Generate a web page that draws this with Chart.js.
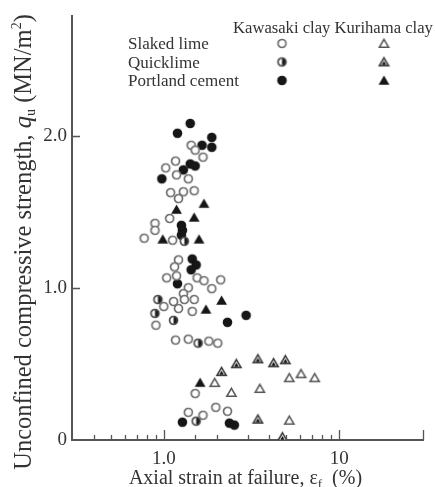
<!DOCTYPE html>
<html>
<head>
<meta charset="utf-8">
<script src="https://cdn.jsdelivr.net/npm/chart.js@4"></script>
<style>
  html, body { margin: 0; padding: 0; background: #fff; }
  canvas { display: block; }
</style>
</head>
<body>
<canvas id="strainChart" width="435" height="487"></canvas>
<script>
// Kawasaki clay - slaked lime (open circles)
var kawaSlakedX = [1.433, 1.509, 1.673, 1.167, 1.026, 1.182, 1.379, 1.094, 1.293, 1.490, 1.213,
    1.080, 0.891, 0.891, 0.773, 1.123, 1.213, 1.152, 1.039, 1.182, 1.549, 1.694, 2.109, 1.379,
    1.878, 1.293, 1.137, 1.310, 1.490, 1.000, 1.213, 1.452, 0.902, 1.167, 1.379, 1.807, 2.029,
    1.509, 1.379, 1.673, 1.978, 2.307];
var kawaSlakedY = [1.941, 1.909, 1.863, 1.837, 1.792, 1.746, 1.720, 1.629, 1.635, 1.642, 1.590,
    1.459, 1.427, 1.381, 1.329, 1.316, 1.186, 1.140, 1.068, 1.081, 1.068, 1.049, 1.055, 1.003,
    0.997, 0.964, 0.912, 0.925, 0.925, 0.879, 0.866, 0.847, 0.756, 0.658, 0.664, 0.651, 0.638,
    0.306, 0.182, 0.163, 0.215, 0.189];

// Kawasaki clay - quicklime (half-filled circles)
var kawaQuickX = [1.310, 0.926, 0.891, 1.137, 1.569, 1.529];
var kawaQuickY = [1.309, 0.925, 0.834, 0.788, 0.638, 0.124];

// Kawasaki clay - Portland cement (filled circles)
var kawaCementX = [1.415, 1.197, 1.878, 1.652, 1.878, 1.415, 1.509, 1.293, 0.975, 1.260, 1.277,
    1.260, 1.452, 1.529, 1.433, 1.197, 2.946, 2.307, 1.277, 2.367, 2.525];
var kawaCementY = [2.085, 2.020, 1.993, 1.941, 1.928, 1.818, 1.805, 1.779, 1.720, 1.414, 1.381,
    1.349, 1.192, 1.153, 1.121, 1.029, 0.821, 0.775, 0.117, 0.111, 0.098];

// Kurihama clay - slaked lime (open triangles)
var kuriSlakedX = [1.952, 2.429, 3.527, 5.189, 6.055, 7.249, 5.189];
var kuriSlakedY = [0.378, 0.313, 0.339, 0.410, 0.436, 0.410, 0.130];

// Kurihama clay - quicklime (dotted triangles)
var kuriQuickX = [2.591, 3.438, 4.224, 4.929, 2.136, 3.438, 4.742];
var kuriQuickY = [0.502, 0.534, 0.508, 0.528, 0.450, 0.137, 0.020];

// Kurihama clay - Portland cement (filled triangles)
var kuriCementX = [1.694, 1.182, 1.490, 0.987, 1.589, 2.136, 1.739, 1.610];
var kuriCementY = [1.557, 1.518, 1.466, 1.322, 1.322, 0.919, 0.860, 0.378];

// axis ticks
var xMajorTicks = [1, 10];
var xMinorTicks = [0.4, 0.5, 0.6, 0.7, 0.8, 0.9, 1.5, 2, 3, 4, 5, 6, 7, 8, 9];
var yTicks = [0, 1, 2];

var legendRows = ['Slaked lime', 'Quicklime', 'Portland cement'];
var legendCols = ['Kawasaki clay', 'Kurihama clay'];

var SERIF = '"Liberation Serif", "DejaVu Serif", serif';
var TEXT = '#333';

function pairs(xs, ys) {
    return xs.map(function(x, i) { return { x: x, y: ys[i] }; });
}

// marker images
function makeMarker(draw) {
    var c = document.createElement('canvas');
    c.width = 13;
    c.height = 13;
    var g = c.getContext('2d');
    draw(g, 6.5, 6.5);
    return c;
}

function triPath(g, cx, cy, r) {
    g.beginPath();
    g.moveTo(cx, cy - r);
    g.lineTo(cx + r * 0.93, cy + r * 0.6);
    g.lineTo(cx - r * 0.93, cy + r * 0.6);
    g.closePath();
}

var openCircle = makeMarker(function(g, cx, cy) {
    g.beginPath();
    g.arc(cx, cy, 4, 0, Math.PI * 2);
    g.fillStyle = '#fff';
    g.fill();
    g.lineWidth = 1.7;
    g.strokeStyle = '#6c6c6c';
    g.stroke();
});

var halfCircle = makeMarker(function(g, cx, cy) {
    g.beginPath();
    g.arc(cx, cy, 4, 0, Math.PI * 2);
    g.fillStyle = '#fff';
    g.fill();
    g.beginPath();
    g.arc(cx, cy, 4, -Math.PI / 2, Math.PI / 2);
    g.closePath();
    g.fillStyle = '#1a1a1a';
    g.fill();
    g.beginPath();
    g.arc(cx, cy, 4, 0, Math.PI * 2);
    g.lineWidth = 1.7;
    g.strokeStyle = '#4a4a4a';
    g.stroke();
});

var filledCircle = makeMarker(function(g, cx, cy) {
    g.beginPath();
    g.arc(cx, cy, 4.8, 0, Math.PI * 2);
    g.fillStyle = '#161616';
    g.fill();
});

var openTri = makeMarker(function(g, cx, cy) {
    triPath(g, cx, cy + 0.8, 5);
    g.fillStyle = '#fff';
    g.fill();
    g.lineWidth = 1.5;
    g.strokeStyle = '#555';
    g.stroke();
});

var dotTri = makeMarker(function(g, cx, cy) {
    triPath(g, cx, cy + 0.8, 5);
    g.fillStyle = '#fff';
    g.fill();
    g.lineWidth = 1.5;
    g.strokeStyle = '#333';
    g.stroke();
    triPath(g, cx, cy + 1.4, 2.5);
    g.fillStyle = '#111';
    g.fill();
});

var filledTri = makeMarker(function(g, cx, cy) {
    triPath(g, cx, cy + 0.8, 5.8);
    g.fillStyle = '#161616';
    g.fill();
});

function ds(label, xs, ys, marker) {
    return {
        label: label,
        data: pairs(xs, ys),
        pointStyle: marker,
        pointRadius: 5,
        pointHoverRadius: 5
    };
}

function drawParts(ctx, parts, cx, baseY) {
    var total = 0;
    parts.forEach(function(p) {
        ctx.font = p.f;
        p.w = ctx.measureText(p.t).width;
        total += p.w;
    });
    var x = cx - total / 2;
    parts.forEach(function(p) {
        ctx.font = p.f;
        ctx.fillText(p.t, x, baseY + p.dy);
        x += p.w;
    });
}

// ticks, titles and the two-column legend
var decorPlugin = {
    id: 'decor',
    afterDraw: function(chart) {
        var ctx = chart.ctx;
        var xs = chart.scales.x;
        var ys = chart.scales.y;
        var area = chart.chartArea;

        ctx.save();
        ctx.strokeStyle = '#555';
        ctx.lineWidth = 1.3;
        ctx.beginPath();
        xMajorTicks.concat([xs.max]).forEach(function(v) {
            var px = Math.round(xs.getPixelForValue(v)) + 0.5;
            ctx.moveTo(px, area.bottom);
            ctx.lineTo(px, area.bottom - 10);
        });
        xMinorTicks.forEach(function(v) {
            var px = Math.round(xs.getPixelForValue(v)) + 0.5;
            ctx.moveTo(px, area.bottom);
            ctx.lineTo(px, area.bottom - 5);
        });
        yTicks.forEach(function(v) {
            if (v === 0) return;
            var py = Math.round(ys.getPixelForValue(v)) + 0.5;
            ctx.moveTo(area.left, py);
            ctx.lineTo(area.left + 8, py);
        });
        ctx.stroke();

        ctx.fillStyle = TEXT;
        ctx.textBaseline = 'alphabetic';
        ctx.textAlign = 'left';

        // x title
        drawParts(ctx, [
            { t: 'Axial strain at failure, ', f: '20px ' + SERIF, dy: 0 },
            { t: '\u03b5', f: '20px ' + SERIF, dy: 0 },
            { t: 'f', f: '13px ' + SERIF, dy: 4 },
            { t: '  (%)', f: '20px ' + SERIF, dy: 0 }
        ], (area.left + area.right) / 2 - 2, 484);

        // y title, rotated
        ctx.save();
        ctx.translate(31, 242);
        ctx.rotate(-Math.PI / 2);
        drawParts(ctx, [
            { t: 'Unconfined compressive strength, ', f: '24.5px ' + SERIF, dy: 0 },
            { t: 'q', f: 'italic 24.5px ' + SERIF, dy: 0 },
            { t: 'u', f: '14px ' + SERIF, dy: 4 },
            { t: ' (MN/m', f: '24.5px ' + SERIF, dy: 0 },
            { t: '2', f: '14px ' + SERIF, dy: -10 },
            { t: ')', f: '24.5px ' + SERIF, dy: 0 }
        ], 0, 0);
        ctx.restore();

        // legend header, fitted between x=233 and x=433
        var header = legendCols[0] + ' ' + legendCols[1];
        ctx.font = '17px ' + SERIF;
        var hw = ctx.measureText(header).width;
        var hs = Math.min(17, 17 * 200 / hw);
        ctx.font = hs.toFixed(2) + 'px ' + SERIF;
        ctx.fillText(header, 233, 33);

        ctx.font = '17px ' + SERIF;
        var markers = [[openCircle, openTri], [halfCircle, dotTri], [filledCircle, filledTri]];
        legendRows.forEach(function(name, i) {
            var ty = 49 + i * 18.5;
            ctx.fillText(name, 128, ty);
            ctx.drawImage(markers[i][0], 282 - 6.5, ty - 12);
            ctx.drawImage(markers[i][1], 384 - 6.5, ty - 12);
        });
        ctx.restore();
    }
};

new Chart(document.getElementById('strainChart'), {
    type: 'scatter',
    data: {
        datasets: [
            ds('Kawasaki clay, slaked lime', kawaSlakedX, kawaSlakedY, openCircle),
            ds('Kawasaki clay, quicklime', kawaQuickX, kawaQuickY, halfCircle),
            ds('Kurihama clay, slaked lime', kuriSlakedX, kuriSlakedY, openTri),
            ds('Kurihama clay, quicklime', kuriQuickX, kuriQuickY, dotTri),
            ds('Kurihama clay, Portland cement', kuriCementX, kuriCementY, filledTri),
            ds('Kawasaki clay, Portland cement', kawaCementX, kawaCementY, filledCircle)
        ]
    },
    options: {
        responsive: false,
        animation: false,
        layout: {
            padding: { top: 12, right: 12, left: 0, bottom: 0 }
        },
        plugins: {
            legend: { display: false },
            tooltip: { enabled: false }
        },
        scales: {
            x: {
                type: 'logarithmic',
                min: 0.33,
                max: 30,
                grid: { display: false, drawTicks: false },
                border: { display: true, color: '#555', width: 2 },
                afterBuildTicks: function(scale) {
                    scale.ticks = xMajorTicks.map(function(v) { return { value: v }; });
                },
                afterFit: function(scale) { scale.height = 47; },
                ticks: {
                    padding: 8,
                    color: TEXT,
                    font: { family: SERIF, size: 19 },
                    maxRotation: 0,
                    callback: function(v) { return v === 1 ? '1.0' : String(v); }
                }
            },
            y: {
                min: 0,
                max: 2.79,
                grid: { display: false, drawTicks: false },
                border: { display: true, color: '#555', width: 2 },
                afterBuildTicks: function(scale) {
                    scale.ticks = yTicks.map(function(v) { return { value: v }; });
                },
                afterFit: function(scale) { scale.width = 72; },
                ticks: {
                    padding: 5,
                    color: TEXT,
                    font: { family: SERIF, size: 19 },
                    callback: function(v) { return v === 0 ? '0' : v.toFixed(1); }
                }
            }
        }
    },
    plugins: [decorPlugin]
});
</script>
</body>
</html>
